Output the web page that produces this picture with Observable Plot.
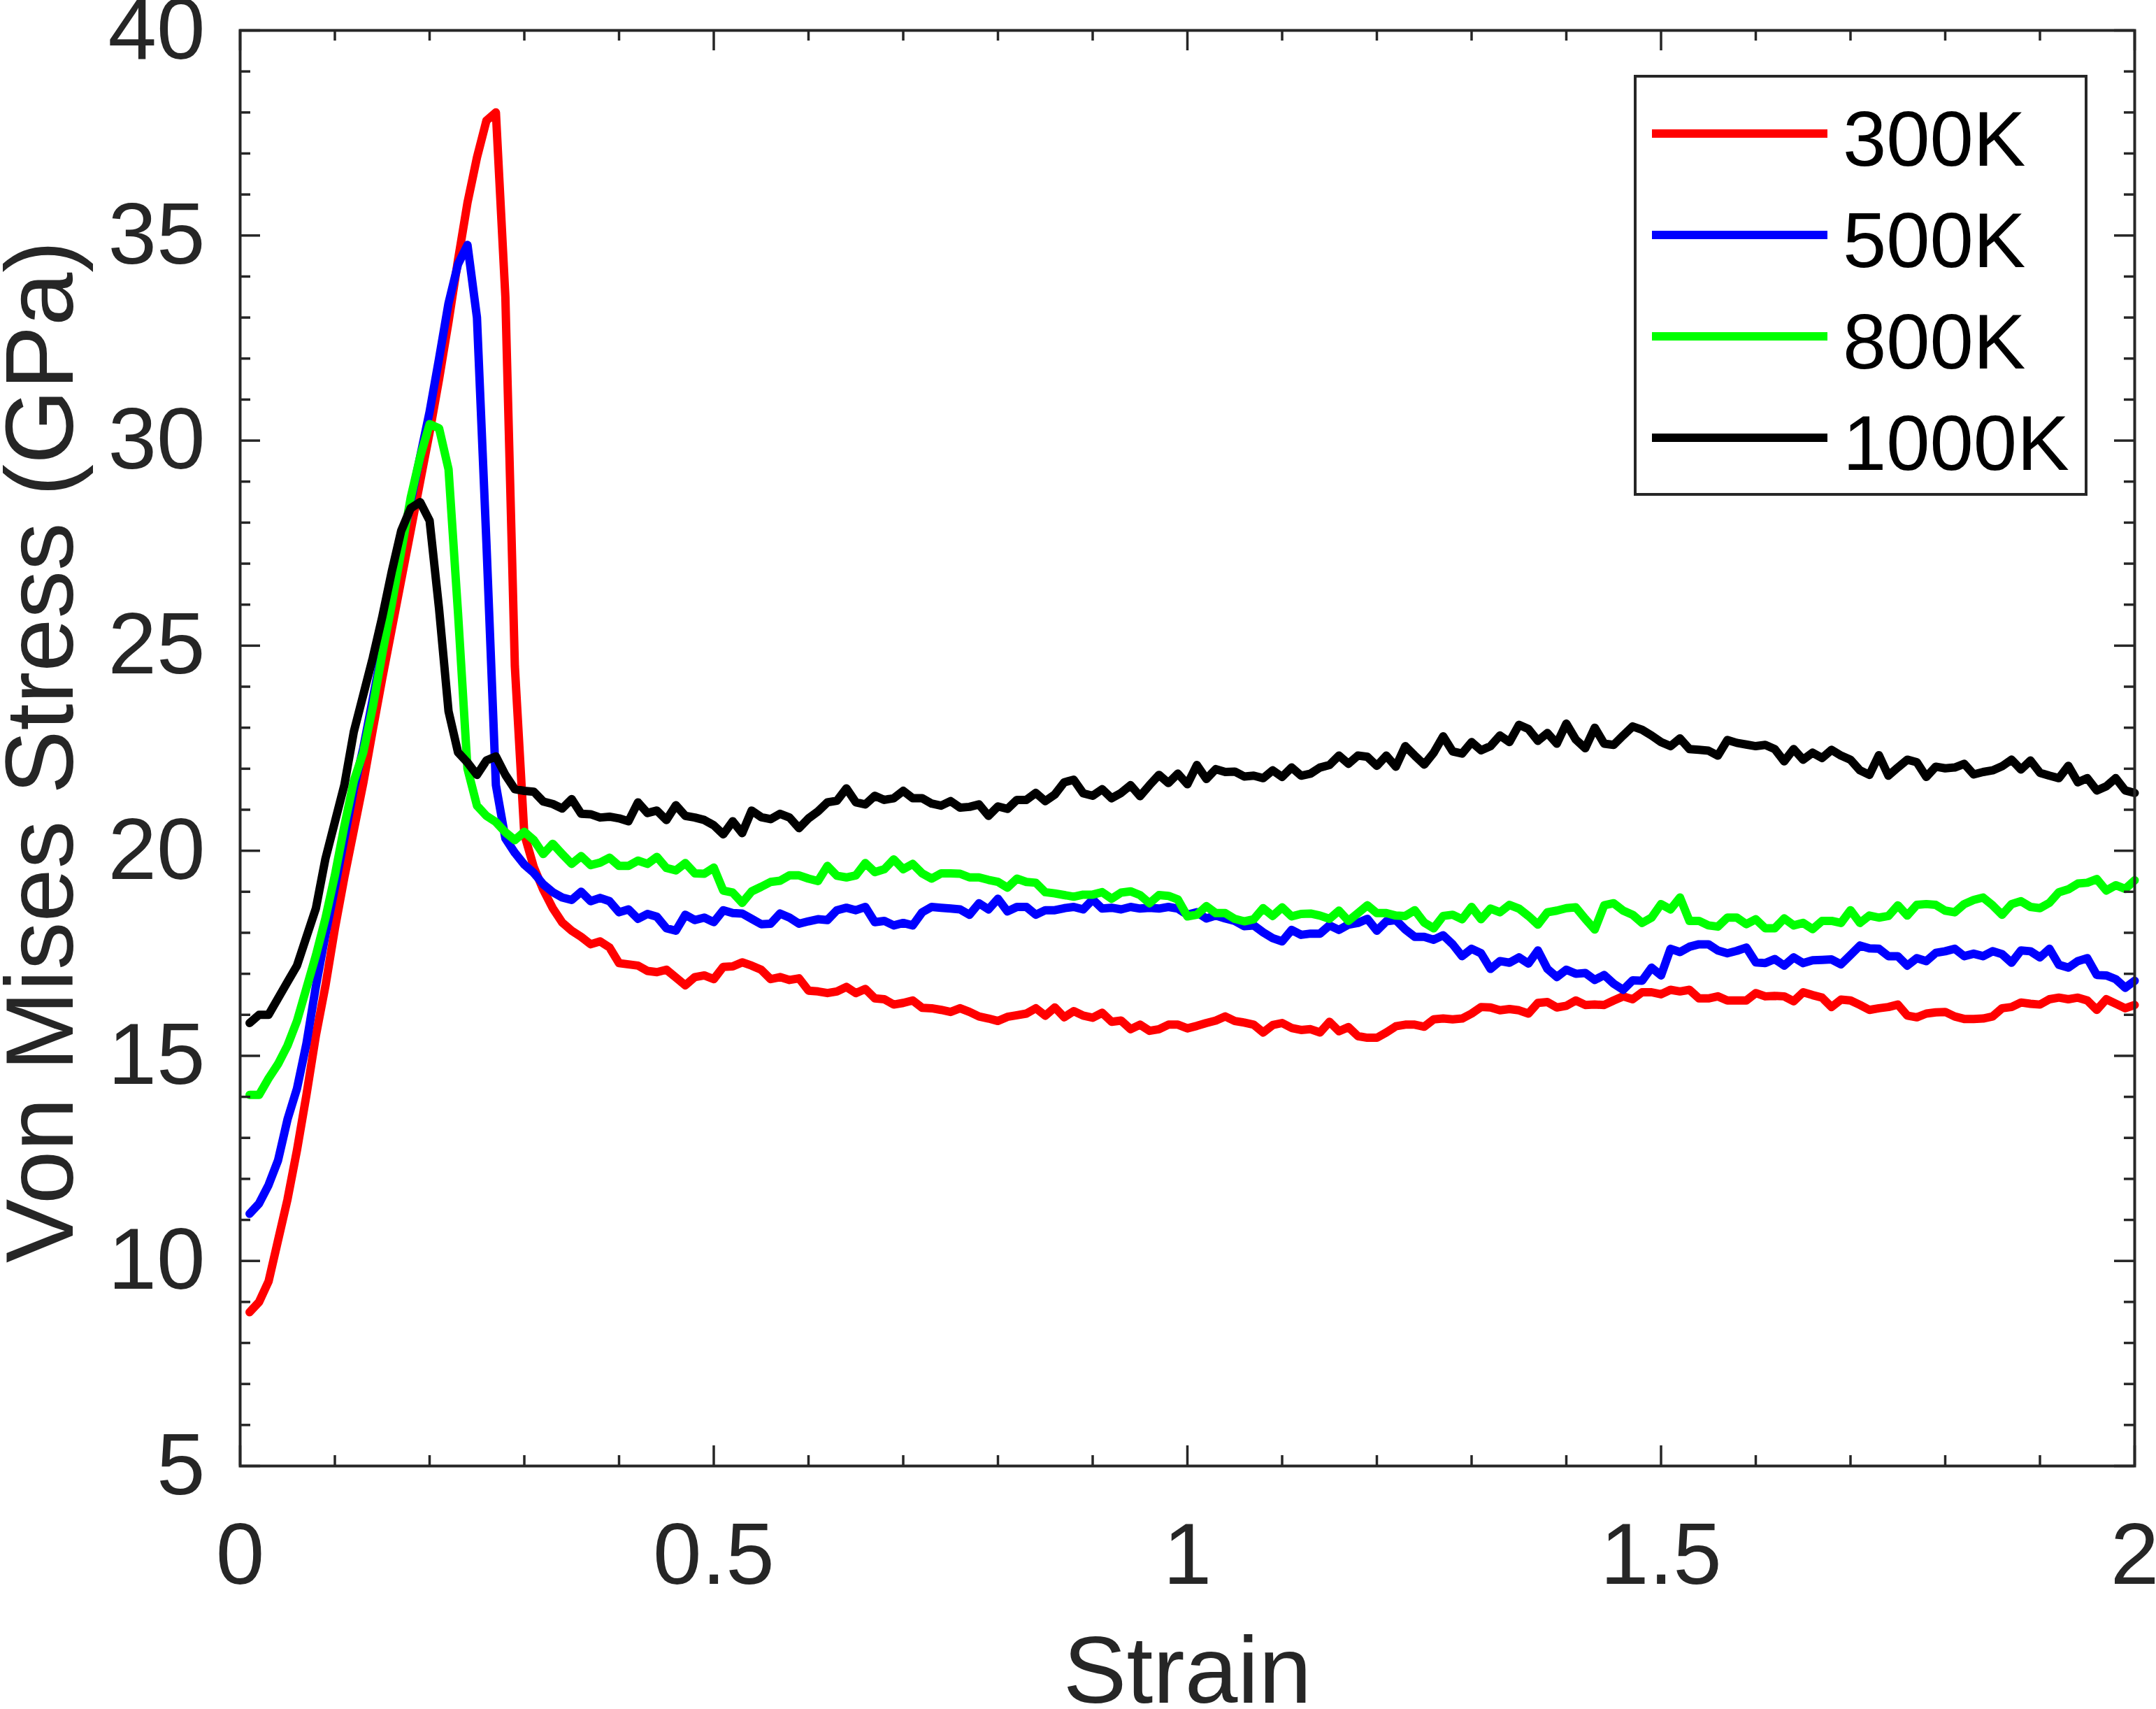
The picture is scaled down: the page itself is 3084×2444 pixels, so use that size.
<!DOCTYPE html>
<html>
<head>
<meta charset="utf-8">
<script src="https://cdn.jsdelivr.net/npm/d3@7"></script>
<script src="https://cdn.jsdelivr.net/npm/@observablehq/plot@0.6"></script>
<style>
html, body { margin: 0; padding: 0; background: #fff; overflow: hidden; }
#wrap { position: relative; width: 3084px; height: 2444px; }
#wrap svg { display: block; }
#legend { position: absolute; left: 2337px; top: 107px; }
</style>
</head>
<body>
<div id="wrap"></div>
<script>
// strain samples (0.01 .. 2.00, step 0.01)
const strain = d3.range(1, 201).map(i => +(i / 100).toFixed(2));

const temps = ["300K", "500K", "800K", "1000K"];
const colors = ["#ff0000", "#0000ff", "#00ff00", "#000000"];

const s300 = [
  8.75, 9.0, 9.5, 10.5, 11.5, 12.7, 14.05, 15.5, 16.7, 18.1,
  19.35, 20.5, 21.65, 22.95, 24.2, 25.4, 26.6, 27.8, 29.0, 30.2,
  31.5, 32.9, 34.4, 35.8, 36.9, 37.8, 38.0, 33.5, 24.5, 20.4,
  19.6, 19.05, 18.6, 18.25, 18.05, 17.9, 17.72, 17.79, 17.64, 17.26,
  17.23, 17.2, 17.07, 17.04, 17.1, 16.91, 16.72, 16.92, 16.96, 16.87,
  17.17, 17.18, 17.28, 17.2, 17.1, 16.87, 16.92, 16.85, 16.89, 16.59,
  16.57, 16.53, 16.57, 16.68, 16.53, 16.63, 16.4, 16.38, 16.25, 16.29,
  16.35, 16.17, 16.16, 16.12, 16.07, 16.16, 16.07, 15.96, 15.91, 15.85,
  15.95, 15.99, 16.03, 16.16, 15.98, 16.18, 15.94, 16.09, 15.98, 15.93,
  16.05, 15.83, 15.86, 15.65, 15.76, 15.61, 15.65, 15.76, 15.76, 15.67,
  15.73, 15.8, 15.86, 15.96, 15.85, 15.81, 15.76, 15.57, 15.75, 15.8,
  15.68, 15.63, 15.65, 15.57, 15.83, 15.6, 15.7, 15.48, 15.44, 15.44,
  15.57, 15.72, 15.76, 15.76, 15.71, 15.89, 15.91, 15.89, 15.91, 16.03,
  16.19, 16.18, 16.11, 16.14, 16.11, 16.03, 16.29, 16.31, 16.18, 16.22,
  16.35, 16.24, 16.25, 16.24, 16.35, 16.45, 16.38, 16.55, 16.55, 16.5,
  16.61, 16.57, 16.61, 16.4, 16.4, 16.45, 16.35, 16.35, 16.35, 16.53,
  16.45, 16.46, 16.45, 16.33, 16.55, 16.48, 16.42, 16.19, 16.37, 16.35,
  16.24, 16.12, 16.16, 16.19, 16.25, 15.98, 15.94, 16.03, 16.06, 16.07,
  15.96, 15.9, 15.9, 15.91, 15.96, 16.16, 16.19, 16.3, 16.27, 16.25,
  16.38, 16.42, 16.38, 16.42, 16.35, 16.12, 16.38, 16.27, 16.16, 16.24
];

const s500 = [
  11.15, 11.4, 11.85, 12.45, 13.45, 14.2, 15.3, 16.7, 17.95, 19.1,
  20.3, 21.5, 22.5, 23.7, 24.9, 26.2, 27.4, 28.5, 29.6, 30.7,
  32.0, 33.35, 34.3, 34.77, 33.0, 27.5, 21.6, 20.3, 19.95, 19.66,
  19.46, 19.18, 18.99, 18.86, 18.8, 19.0, 18.77, 18.85, 18.77, 18.5,
  18.57, 18.34, 18.46, 18.39, 18.11, 18.05, 18.44, 18.31, 18.37, 18.26,
  18.55, 18.48, 18.47, 18.34, 18.21, 18.22, 18.47, 18.37, 18.22, 18.28,
  18.33, 18.31, 18.55, 18.61, 18.55, 18.63, 18.26, 18.29, 18.18, 18.24,
  18.18, 18.5, 18.63, 18.61, 18.59, 18.57, 18.44, 18.72, 18.57, 18.83,
  18.52, 18.63, 18.63, 18.44, 18.55, 18.55, 18.6, 18.63, 18.57, 18.81,
  18.59, 18.61, 18.57, 18.63, 18.59, 18.61, 18.59, 18.63, 18.59, 18.44,
  18.5, 18.35, 18.42, 18.35, 18.29, 18.16, 18.18, 18.01, 17.87, 17.79,
  18.07, 17.95, 17.98, 17.98, 18.18, 18.07, 18.2, 18.24, 18.34, 18.05,
  18.28, 18.31, 18.08, 17.9, 17.9, 17.83, 17.94, 17.72, 17.43, 17.61,
  17.5, 17.12, 17.31, 17.27, 17.4, 17.25, 17.57, 17.12, 16.92, 17.1,
  17.0, 17.02, 16.85, 16.97, 16.76, 16.61, 16.84, 16.83, 17.15, 16.96,
  17.61, 17.53, 17.66, 17.72, 17.72, 17.57, 17.5, 17.56, 17.64, 17.28,
  17.26, 17.36, 17.2, 17.4, 17.26, 17.33, 17.34, 17.35, 17.23, 17.46,
  17.69, 17.62, 17.61, 17.43, 17.43, 17.2, 17.38, 17.31, 17.51, 17.55,
  17.61, 17.43, 17.49, 17.43, 17.55, 17.48, 17.27, 17.57, 17.55, 17.4,
  17.61, 17.22, 17.15, 17.31, 17.38, 16.97, 16.96, 16.87, 16.66, 16.83
];

const s800 = [
  14.05, 14.05, 14.45, 14.8, 15.25, 15.85, 16.65, 17.45, 18.35, 19.4,
  20.6, 21.7, 22.4, 23.5, 24.8, 26.0, 27.3, 28.6, 29.6, 30.4,
  30.3, 29.3, 25.8, 22.0, 21.1, 20.85, 20.7, 20.45, 20.26, 20.46,
  20.26, 19.92, 20.17, 19.92, 19.68, 19.87, 19.65, 19.71, 19.83, 19.63,
  19.63, 19.76, 19.68, 19.85, 19.58, 19.52, 19.7, 19.45, 19.44, 19.59,
  19.03, 18.98, 18.73, 19.01, 19.12, 19.24, 19.27, 19.4, 19.4, 19.32,
  19.26, 19.63, 19.39, 19.35, 19.4, 19.7, 19.48, 19.55, 19.79, 19.55,
  19.68, 19.45, 19.32, 19.45, 19.45, 19.44, 19.35, 19.35, 19.29, 19.24,
  19.1, 19.32, 19.24, 19.22, 18.99, 18.96, 18.92, 18.88, 18.93, 18.93,
  18.99, 18.83, 18.98, 19.01, 18.92, 18.72, 18.92, 18.9, 18.81, 18.4,
  18.44, 18.65, 18.48, 18.48, 18.34, 18.28, 18.33, 18.6, 18.41, 18.62,
  18.4, 18.46, 18.47, 18.42, 18.34, 18.54, 18.29, 18.48, 18.67, 18.48,
  18.48, 18.42, 18.41, 18.55, 18.25, 18.11, 18.41, 18.44, 18.33, 18.63,
  18.33, 18.59, 18.5, 18.68, 18.59, 18.41, 18.2, 18.5, 18.54, 18.6,
  18.62, 18.34, 18.08, 18.67, 18.72, 18.54, 18.44, 18.24, 18.37, 18.7,
  18.57, 18.86, 18.29, 18.29, 18.18, 18.15, 18.37, 18.37, 18.21, 18.33,
  18.11, 18.11, 18.35, 18.18, 18.24, 18.09, 18.29, 18.29, 18.24, 18.55,
  18.24, 18.42, 18.37, 18.41, 18.67, 18.42, 18.68, 18.7, 18.68, 18.54,
  18.5, 18.7, 18.8, 18.86, 18.67, 18.44, 18.7, 18.77, 18.63, 18.6,
  18.73, 18.99, 19.06, 19.2, 19.22, 19.31, 19.03, 19.16, 19.07, 19.28
];

const s1000 = [
  15.8, 16.0, 16.0, 16.4, 16.8, 17.2, 17.9, 18.6, 19.8, 20.7,
  21.6, 22.9, 23.8, 24.7, 25.7, 26.8, 27.8, 28.35, 28.5, 28.05,
  25.9, 23.4, 22.4, 22.15, 21.85, 22.2, 22.3, 21.85, 21.5, 21.46,
  21.44, 21.2, 21.14, 21.03, 21.26, 20.9, 20.89, 20.81, 20.83, 20.79,
  20.72, 21.18, 20.92, 20.98, 20.75, 21.11, 20.85, 20.81, 20.75, 20.62,
  20.4, 20.72, 20.43, 20.98, 20.82, 20.77, 20.9, 20.81, 20.55, 20.79,
  20.96, 21.18, 21.22, 21.52, 21.18, 21.13, 21.34, 21.24, 21.28, 21.46,
  21.28, 21.28, 21.15, 21.1, 21.21, 21.05, 21.07, 21.13, 20.85, 21.08,
  21.02, 21.24, 21.24, 21.41, 21.21, 21.37, 21.67, 21.73, 21.4, 21.34,
  21.5, 21.28, 21.41, 21.6, 21.33, 21.6, 21.85, 21.65, 21.88, 21.62,
  22.09, 21.75, 21.99, 21.92, 21.93, 21.81, 21.83, 21.77, 21.96, 21.8,
  22.03, 21.83, 21.88, 22.03, 22.09, 22.32, 22.12, 22.32, 22.29, 22.07,
  22.32, 22.05, 22.55, 22.32, 22.1, 22.39, 22.79, 22.42, 22.37, 22.65,
  22.45, 22.55, 22.81, 22.65, 23.07, 22.97, 22.68, 22.87, 22.61, 23.1,
  22.71, 22.5, 23.0, 22.61, 22.58, 22.81, 23.03, 22.95, 22.81, 22.65,
  22.55, 22.74, 22.48, 22.46, 22.44, 22.32, 22.7, 22.63, 22.59, 22.55,
  22.58, 22.48, 22.18, 22.48, 22.22, 22.39, 22.26, 22.46, 22.32, 22.22,
  21.96, 21.85, 22.33, 21.83, 22.03, 22.22, 22.16, 21.8, 22.05, 22.01,
  22.03, 22.12, 21.86, 21.92, 21.96, 22.06, 22.22, 21.98, 22.2, 21.9,
  21.83, 21.77, 22.07, 21.67, 21.77, 21.47, 21.57, 21.77, 21.47, 21.41
];

const xTicks = [0, 0.5, 1, 1.5, 2];
const xMinorTicks = [0.1, 0.2, 0.3, 0.4, 0.6, 0.7, 0.8, 0.9, 1.1, 1.2, 1.3, 1.4, 1.6, 1.7, 1.8, 1.9];
const yTicks = [5, 10, 15, 20, 25, 30, 35, 40];
const yMinorTicks = [6, 7, 8, 9, 11, 12, 13, 14, 16, 17, 18, 19, 21, 22, 23, 24, 26, 27, 28, 29, 31, 32, 33, 34, 36, 37, 38, 39];

const xLabel = "Strain";
const yLabel = "Von Mises Stress (GPa)";

// ---- build table ----
const series = [s300, s500, s800, s1000];
const rows = [];
series.forEach((arr, k) => arr.forEach((v, i) => rows.push({strain: strain[i], stress: v, T: temps[k]})));

const W = 3084, H = 2444;
const mL = 343, mR = 31, mT = 43, mB = 348;
const plotH = H - mT - mB, plotW = W - mL - mR;
const axisColor = "#262626";
const majorLen = 29, minorLen = 15, tickW = 3.5;
const lineW = 12;

const chart = Plot.plot({
  width: W, height: H,
  marginLeft: mL, marginRight: mR, marginTop: mT, marginBottom: mB,
  style: {fontFamily: "'Liberation Sans', Arial, sans-serif", fontSize: "125px", color: axisColor, background: "white"},
  x: {domain: [0, 2]},
  y: {domain: [5, 40]},
  color: {domain: temps, range: colors},
  marks: [
    Plot.line(rows, {x: "strain", y: "stress", stroke: "T", z: "T", strokeWidth: lineW, strokeLinejoin: "round"}),
    // ticks (inward, on all four sides)
    Plot.tickX(xTicks, {x: d => d, stroke: axisColor, strokeWidth: tickW, insetTop: plotH - majorLen}),
    Plot.tickX(xTicks, {x: d => d, stroke: axisColor, strokeWidth: tickW, insetBottom: plotH - majorLen}),
    Plot.tickX(xMinorTicks, {x: d => d, stroke: axisColor, strokeWidth: tickW, insetTop: plotH - minorLen}),
    Plot.tickX(xMinorTicks, {x: d => d, stroke: axisColor, strokeWidth: tickW, insetBottom: plotH - minorLen}),
    Plot.tickY(yTicks, {y: d => d, stroke: axisColor, strokeWidth: tickW, insetRight: plotW - majorLen}),
    Plot.tickY(yTicks, {y: d => d, stroke: axisColor, strokeWidth: tickW, insetLeft: plotW - majorLen}),
    Plot.tickY(yMinorTicks, {y: d => d, stroke: axisColor, strokeWidth: tickW, insetRight: plotW - minorLen}),
    Plot.tickY(yMinorTicks, {y: d => d, stroke: axisColor, strokeWidth: tickW, insetLeft: plotW - minorLen}),
    Plot.frame({stroke: axisColor, strokeWidth: 4}),
    Plot.axisX({ticks: xTicks, tickSize: 0, tickPadding: 80, tickFormat: d => String(d), label: null, fill: axisColor}),
    Plot.axisY({ticks: yTicks, tickSize: 0, tickPadding: 50, tickFormat: d => String(d), label: null, fill: axisColor}),
    Plot.text([xLabel], {text: d => d, frameAnchor: "bottom", textAnchor: "middle", dy: 338, lineAnchor: "bottom", fontSize: 136, fill: axisColor}),
    Plot.text([yLabel], {text: d => d, frameAnchor: "left", textAnchor: "middle", dx: -240, dy: 5, rotate: -90, lineAnchor: "bottom", fontSize: 137, fill: axisColor})
  ]
});
document.getElementById("wrap").appendChild(chart);

// ---- legend overlay ----
const LW = 649, LH = 602;
const leg = d3.select("#wrap").append("svg")
  .attr("id", "legend").attr("width", LW).attr("height", LH)
  .style("font-family", "'Liberation Sans', Arial, sans-serif");
leg.append("rect").attr("x", 2).attr("y", 2).attr("width", LW - 4).attr("height", LH - 4)
  .attr("fill", "white").attr("stroke", axisColor).attr("stroke-width", 4);
const rowY = d3.scalePoint().domain(temps).range([84, 519]);
const item = leg.selectAll("g.item").data(temps).join("g").attr("class", "item")
  .attr("transform", d => `translate(0,${rowY(d)})`);
item.append("line").attr("x1", 26).attr("x2", 277).attr("y1", 0).attr("y2", 0)
  .attr("stroke", (d, i) => colors[i]).attr("stroke-width", lineW);
item.append("text").attr("x", 299).attr("y", 46).attr("font-size", 112).attr("fill", "#000").text(d => d);
</script>
</body>
</html>
